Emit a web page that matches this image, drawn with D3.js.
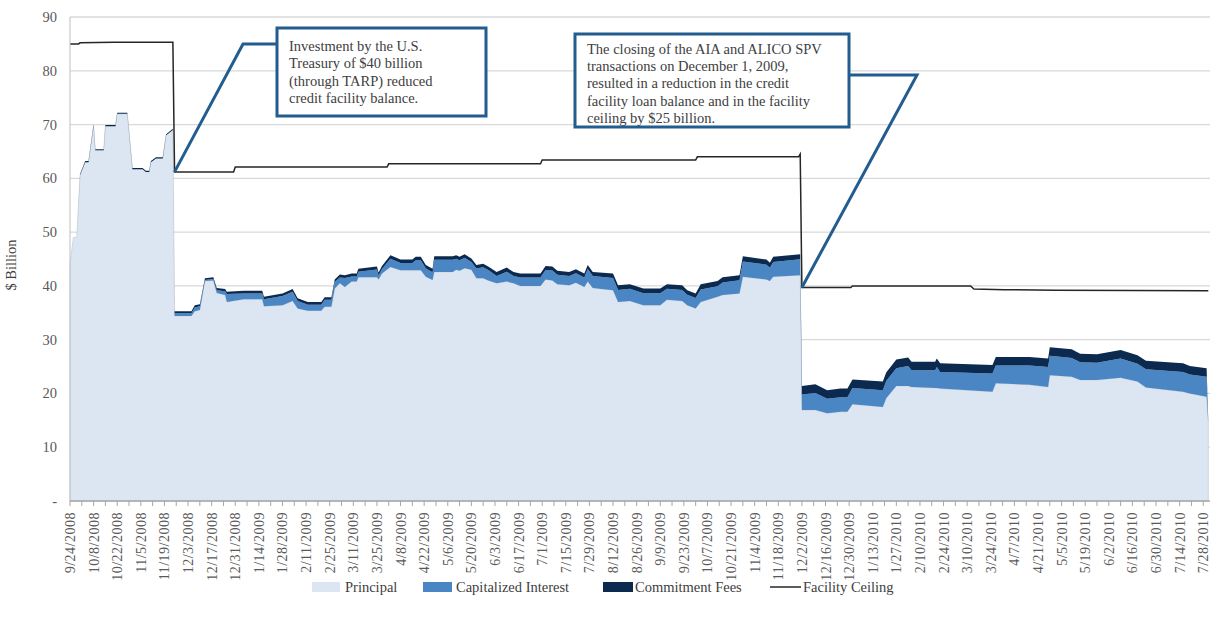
<!DOCTYPE html>
<html>
<head>
<meta charset="utf-8">
<style>
  body { margin: 0; background: #fff; }
  svg { font-family: "Liberation Serif", "DejaVu Serif", serif; }
</style>
</head>
<body>
<div id="chart"></div>
<script src="https://cdn.jsdelivr.net/npm/d3@7"></script>
<script>
// balances in $ billion
const dates = [
  "2008-09-24","2008-09-26","2008-09-28","2008-09-30","2008-10-03","2008-10-05","2008-10-08","2008-10-09",
  "2008-10-14","2008-10-15","2008-10-21","2008-10-22","2008-10-28","2008-10-31","2008-11-06","2008-11-08",
  "2008-11-10","2008-11-11","2008-11-14","2008-11-18","2008-11-20","2008-11-24",
  "2008-11-25","2008-12-05","2008-12-07","2008-12-10","2008-12-13","2008-12-18","2008-12-20","2008-12-25",
  "2008-12-26","2009-01-05","2009-01-16","2009-01-17","2009-01-28","2009-02-03","2009-02-06","2009-02-12",
  "2009-02-20","2009-02-22","2009-02-26","2009-02-28","2009-03-03","2009-03-06","2009-03-10","2009-03-13",
  "2009-03-14","2009-03-25","2009-03-26","2009-03-28","2009-04-02","2009-04-08","2009-04-15","2009-04-17",
  "2009-04-20","2009-04-23","2009-04-27","2009-04-28","2009-05-09","2009-05-11","2009-05-13","2009-05-16",
  "2009-05-20","2009-05-23","2009-05-27","2009-05-30","2009-06-04","2009-06-10","2009-06-14","2009-06-18",
  "2009-06-30","2009-07-03","2009-07-07","2009-07-10","2009-07-17","2009-07-21","2009-07-26","2009-07-28",
  "2009-07-31","2009-08-12","2009-08-15","2009-08-22","2009-08-30","2009-09-09","2009-09-13","2009-09-22",
  "2009-09-25","2009-09-30","2009-10-03","2009-10-13","2009-10-16","2009-10-26","2009-10-28","2009-11-11",
  "2009-11-13","2009-11-15","2009-12-01",
  "2009-12-02","2009-12-10","2009-12-17","2009-12-25","2009-12-29","2010-01-01","2010-01-19","2010-01-21",
  "2010-01-27","2010-02-03","2010-02-05","2010-02-19","2010-02-20","2010-02-22","2010-03-25","2010-03-27",
  "2010-04-16","2010-04-27","2010-04-28","2010-05-11","2010-05-16","2010-05-26","2010-06-09","2010-06-19",
  "2010-06-24","2010-07-16","2010-07-20","2010-07-30","2010-07-31"
];
const principal = [
  44,49,49,60.6,63,63,69.8,65.2,
  65.2,69.7,69.7,72,72,61.7,61.7,61.2,
  61.2,63,63.7,63.7,68,69,
  34.4,34.4,35.3,35.5,40.9,41.0,38.7,38.3,
  37.0,37.5,37.5,36.2,36.4,37.2,35.8,35.4,
  35.4,36.1,36.1,39.5,40.5,39.8,40.8,40.8,
  41.6,41.6,41.2,42.3,43.5,42.9,42.9,42.9,
  42.9,41.7,41.1,42.6,42.6,43.0,42.8,43.3,
  43.0,41.4,41.4,41.0,40.5,40.8,40.5,40.0,
  40.0,41.2,41.0,40.3,40.1,40.6,39.8,40.8,
  39.6,39.2,37.0,37.2,36.4,36.4,37.4,37.2,
  36.4,35.8,37.0,38.0,38.3,38.6,41.7,41.2,
  40.9,41.7,42.0,
  16.9,16.9,16.3,16.6,16.6,18.0,17.5,19.1,
  21.4,21.4,21.2,21.0,21.0,20.9,20.3,21.9,
  21.6,21.2,23.4,23.1,22.5,22.5,22.9,22.2,
  21.1,20.3,20.0,19.4,14.3
];
const interest = [
  0,0,0,0,0,0,0,0,
  0,0,0,0,0,0,0,0,
  0,0,0,0,0,0,
  0.5,0.5,0.7,0.7,0.2,0.3,0.5,0.7,
  1.5,1.1,1.1,1.3,1.7,1.7,1.4,1.1,
  1.1,1.3,1.3,1.2,1.05,1.65,0.95,0.95,
  1.05,1.45,0.75,0.85,1.55,1.35,1.35,1.85,
  1.85,1.55,1.45,2.25,2.25,2.05,1.95,1.95,
  1.45,1.85,2.05,1.95,1.35,1.85,1.35,1.55,
  1.55,1.75,1.85,1.75,1.75,1.75,1.75,2.35,
  2.25,2.25,2.25,2.25,2.25,2.25,2.05,2.05,
  1.95,1.95,2.35,1.95,2.35,2.45,2.85,2.75,
  2.45,2.75,2.95,
  2.9,3.2,2.7,2.7,2.7,3.0,3.1,3.2,
  3.3,3.7,3.1,3.3,3.9,3.1,3.4,3.3,
  3.6,3.7,3.6,3.5,3.3,3.2,3.6,3.3,
  3.4,3.7,3.5,3.7,0
];
const fees = [
  0,0,0,0.2,0.2,0.2,0.2,0.2,
  0.2,0.2,0.2,0.2,0.2,0.2,0.2,0.2,
  0.2,0.2,0.2,0.2,0.2,0.2,
  0.4,0.4,0.4,0.4,0.3,0.3,0.4,0.4,
  0.4,0.5,0.5,0.5,0.5,0.5,0.5,0.5,
  0.5,0.5,0.5,0.5,0.55,0.55,0.55,0.55,
  0.55,0.55,0.55,0.55,0.65,0.65,0.65,0.65,
  0.65,0.65,0.65,0.65,0.65,0.65,0.65,0.65,
  0.65,0.65,0.65,0.65,0.75,0.75,0.75,0.75,
  0.75,0.75,0.75,0.75,0.75,0.75,0.75,0.75,
  0.75,0.85,0.85,0.85,0.85,0.85,0.85,0.85,
  0.85,0.85,0.95,0.95,0.95,0.95,0.95,0.95,
  0.95,0.95,0.95,
  1.6,1.6,1.6,1.6,1.6,1.6,1.6,1.6,
  1.6,1.6,1.6,1.6,1.6,1.6,1.6,1.6,
  1.6,1.6,1.6,1.6,1.6,1.6,1.6,1.6,
  1.6,1.6,1.6,1.6,0
];

const ceilingDates = [
  "2008-09-24","2008-09-29","2008-09-30","2008-10-20","2008-11-24","2008-11-25","2008-12-30","2008-12-31",
  "2009-03-31","2009-04-01","2009-06-30","2009-07-01","2009-09-30","2009-10-01","2009-11-30","2009-12-01",
  "2009-12-02","2009-12-31","2010-01-01","2010-03-12","2010-03-14","2010-04-01","2010-05-01","2010-07-31"
];
const ceiling = [
  85.0,85.0,85.2,85.3,85.3,61.2,61.2,62.1,
  62.1,62.7,62.7,63.4,63.4,64.0,64.0,64.5,
  39.7,39.7,40.0,40.0,39.4,39.3,39.2,39.1
];

const seriesNames = ["Principal", "Capitalized Interest", "Commitment Fees"];
const seriesColors = ["#dce6f2", "#4a86c4", "#0c2a50"];
const yTicks = [0, 10, 20, 30, 40, 50, 60, 70, 80, 90];

const notes = [
  { lines: ["Investment by the U.S.", "Treasury of $40 billion", "(through TARP) reduced", "credit facility balance."],
    box: [277, 28, 209, 88], first: 23, elbow: [243, 44], date: "2008-11-25", value: 61.2 },
  { lines: ["The closing of the AIA and ALICO SPV", "transactions on December 1, 2009,",
            "resulted in a reduction in the credit", "facility loan balance and in the facility",
            "ceiling by $25 billion."],
    box: [575, 34, 274, 93], first: 19.5, elbow: [917, 75], date: "2009-12-02", value: 39.7 }
];

const W = 1223, H = 624;
const parse = d3.utcParse("%Y-%m-%d");
const fmt = d3.utcFormat("%-m/%-d/%Y");

const svg = d3.select("#chart").append("svg").attr("width", W).attr("height", H);

const x = d3.scaleUtc()
  .domain([parse("2008-09-24"), parse("2010-08-01")])
  .range([70, 1210]);
const y = d3.scaleLinear().domain([0, 90]).range([501, 17]);

// gridlines
svg.append("g").selectAll("line").data(yTicks.slice(1)).join("line")
  .attr("x1", 70).attr("x2", 1210)
  .attr("y1", d => y(d)).attr("y2", d => y(d))
  .attr("stroke", "#d9d9d9").attr("stroke-width", 1.3);

// stacked areas
const table = dates.map((d, i) => ({
  date: parse(d), p: principal[i], ci: interest[i], cf: fees[i]
}));
const stack = d3.stack().keys(["p", "ci", "cf"]);
const layers = stack(table);

const area = d3.area()
  .x(d => x(d.data.date))
  .y0(d => y(d[0]))
  .y1(d => y(d[1]));

svg.append("g").selectAll("path").data(layers).join("path")
  .attr("d", area)
  .attr("fill", (d, i) => seriesColors[i])
  .attr("stroke", (d, i) => i == 0 ? "#c8d0da" : "none")
  .attr("stroke-width", 0.8);

// facility ceiling
const ceilData = ceilingDates.map((d, i) => ({ date: parse(d), v: ceiling[i] }));
svg.append("path")
  .datum(ceilData)
  .attr("d", d3.line().x(d => x(d.date)).y(d => y(d.v)))
  .attr("fill", "none")
  .attr("stroke", "#262626")
  .attr("stroke-width", 1.5);

// y axis
svg.append("line").attr("x1", 70).attr("x2", 70).attr("y1", 17).attr("y2", 501)
  .attr("stroke", "#bfbfbf");
svg.append("g").selectAll("text").data(yTicks).join("text")
  .attr("x", 57).attr("y", d => y(d) + 5)
  .attr("text-anchor", "end")
  .attr("font-size", 14.5)
  .attr("fill", "#595959")
  .text(d => d == 0 ? "-" : d);
svg.append("text")
  .attr("transform", "translate(16,265) rotate(-90)")
  .attr("text-anchor", "middle")
  .attr("font-size", 14.5)
  .attr("fill", "#404040")
  .text("$ Billion");

// x axis: a tick every week, a label every other week
const weekTicks = d3.range(0, 97).map(i => d3.utcDay.offset(parse("2008-09-24"), i * 7));
const xAxis = svg.append("g");
xAxis.append("line").attr("x1", 70).attr("x2", 1210).attr("y1", 501).attr("y2", 501)
  .attr("stroke", "#a6a6a6").attr("stroke-width", 1.3);
xAxis.selectAll("line.tick").data(weekTicks).join("line")
  .attr("class", "tick")
  .attr("x1", d => x(d)).attr("x2", d => x(d))
  .attr("y1", 501).attr("y2", 506)
  .attr("stroke", "#a6a6a6");
xAxis.selectAll("text").data(weekTicks.filter((d, i) => i % 2 == 0)).join("text")
  .attr("transform", d => `translate(${x(d) + 5},512) rotate(-90)`)
  .attr("text-anchor", "end")
  .attr("font-size", 14)
  .attr("letter-spacing", 0.5)
  .attr("fill", "#595959")
  .text(d => fmt(d));

// legend
const legend = svg.append("g").attr("font-size", 14.5).attr("fill", "#404040");
const legItems = [
  { name: seriesNames[0], color: seriesColors[0], x: 312, w: 28, tx: 345 },
  { name: seriesNames[1], color: seriesColors[1], x: 423, w: 29, tx: 456 },
  { name: seriesNames[2], color: seriesColors[2], x: 603, w: 30, tx: 635 },
];
legItems.forEach(d => {
  legend.append("rect").attr("x", d.x).attr("y", 582).attr("width", d.w).attr("height", 10)
    .attr("fill", d.color);
  legend.append("text").attr("x", d.tx).attr("y", 592).text(d.name);
});
legend.append("line").attr("x1", 770).attr("x2", 801).attr("y1", 587).attr("y2", 587)
  .attr("stroke", "#262626").attr("stroke-width", 1.5);
legend.append("text").attr("x", 803).attr("y", 592).text("Facility Ceiling");

// annotations
notes.forEach(n => {
  const [bx, by, bw, bh] = n.box;
  const side = n.elbow[0] < bx ? bx : bx + bw;
  svg.append("polyline")
    .attr("points", [[side, n.elbow[1]], n.elbow, [x(parse(n.date)), y(n.value)]].map(p => p.join(",")).join(" "))
    .attr("fill", "none")
    .attr("stroke", "#235d90")
    .attr("stroke-width", 3);
  svg.append("rect")
    .attr("x", bx).attr("y", by).attr("width", bw).attr("height", bh)
    .attr("fill", "#fff").attr("stroke", "#235d90").attr("stroke-width", 3);
  svg.append("text")
    .attr("font-size", 14.5)
    .attr("fill", "#404040")
    .selectAll("tspan").data(n.lines).join("tspan")
    .attr("x", bx + 12)
    .attr("y", (d, i) => by + n.first + i * 17.4)
    .text(d => d);
});
</script>
</body>
</html>
